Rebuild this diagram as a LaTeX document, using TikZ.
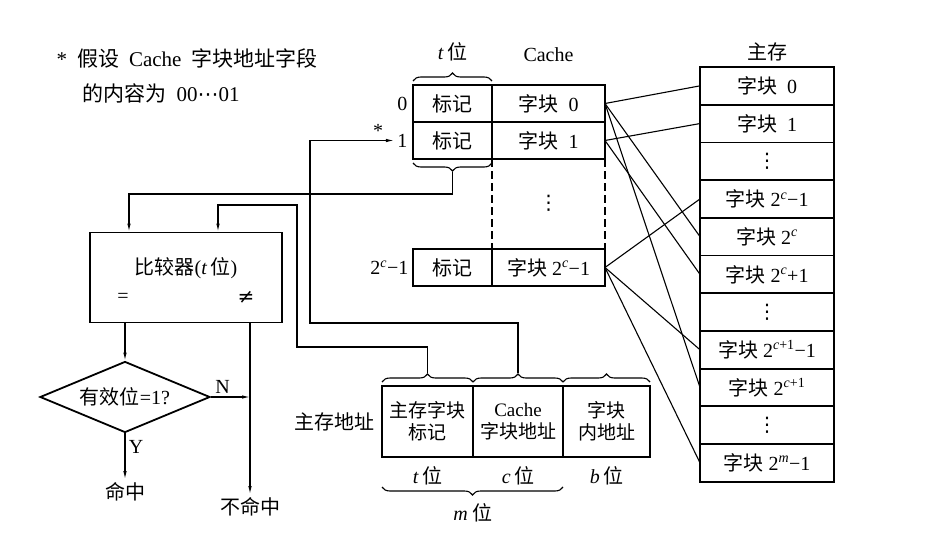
\documentclass[tikz,border=0pt]{standalone}
\usepackage{fontspec}
\setmainfont{Liberation Serif}
\newfontfamily\cjk{Noto Sans CJK SC}
\newfontfamily\sym{DejaVu Sans}
\usepackage{tikz}
\usetikzlibrary{shapes.geometric, arrows.meta, positioning, calc, decorations.pathreplacing}
\tikzstyle{cell} = [draw, rectangle, line width=1.8pt, inner sep=0pt,
    outer sep=0pt, minimum height=37pt]
\tikzstyle{tagcell} = [cell, minimum width=79pt]
\tikzstyle{blkcell} = [cell, minimum width=113pt]
\tikzstyle{memcell} = [cell, minimum width=134pt, minimum height=37.7pt]
\tikzstyle{field} = [cell, minimum height=71pt, align=center,
    font=\fontsize{19pt}{22pt}\selectfont]
\tikzstyle{cmpbox} = [draw, rectangle, line width=1.8pt, minimum width=192pt,
    minimum height=90pt, text height=15pt, text depth=22pt]
\tikzstyle{decide} = [draw, diamond, line width=1.8pt, inner sep=0pt, aspect=2.4,
    minimum width=170pt, minimum height=71pt]
\tikzstyle{wire} = [line width=1.1pt]
\tikzstyle{cbrace} = [decorate, decoration={brace, amplitude=8pt}, line width=1.1pt]
\newcommand{\zh}[1]{{\cjk #1}}
\newcommand{\pw}[1]{2\textsuperscript{#1}}
\newcommand{\vdts}{{\sym ⋮}}

\begin{document}
\begin{tikzpicture}[x=1pt, y=-1pt, node distance=0pt, >={Latex[length=8pt,width=3.5pt]},
    every node/.style={font=\fontsize{20pt}{24pt}\selectfont}]
    \useasboundingbox (0,0) rectangle (946,551);
    % note
    \node [anchor=west, font=\fontsize{21pt}{25pt}\selectfont] (note1) at (53,58)
        {*\hspace{10pt}\zh{假设}\hspace{10pt}Cache\hspace{10pt}\zh{字块地址字段}};
    \node [anchor=west, font=\fontsize{21pt}{25pt}\selectfont] (note2) at (79,93)
        {\zh{的内容为}\hspace{10pt}00{\sym ⋯}01};
    % cache
    \node [tagcell] (tag0) at (452.5,103.5) {\zh{标记}};
    \node [blkcell, right=of tag0] (blk0) {\zh{字块}~~0};
    \node [tagcell, below=of tag0] (tag1) {\zh{标记}};
    \node [blkcell, right=of tag1] (blk1) {\zh{字块}~~1};
    \node [tagcell] (tagN) at (452.5,267.5) {\zh{标记}};
    \node [blkcell, right=of tagN] (blkN) {\zh{字块}~\pw{\textit{c}}−1};
    \draw [wire, dashed, dash pattern=on 8pt off 4pt] (tag1.south east) -- (tagN.north east);
    \draw [wire, dashed, dash pattern=on 8pt off 4pt] (blk1.south east) -- (blkN.north east);
    \node (cdots) at (548.5,203) {\vdts};
    \node [left=2pt of tag0] (lbl0) {0};
    \node [left=2pt of tag1] (lbl1) {1};
    \node [left=1pt of tagN] (lblN) {\pw{\textit{c}}−1};
    \node (star) at (378,131) {*};
    \node [above=20pt of tag0] (tbit) {\textit{t}\,\zh{位}};
    \node [above=20pt of blk0] (cachelbl) {Cache};
    \draw [cbrace] ([yshift=4pt]tag0.north west) -- ([yshift=4pt]tag0.north east);
    \draw [cbrace] ([yshift=-4pt]tag1.south east) -- ([yshift=-4pt]tag1.south west);
    \coordinate (ttip) at ($(tag1.south)+(0,13)$);
    % main memory
    \node [memcell] (m0) at (767,85.85) {\zh{字块}~~0};
    \node [memcell, below=of m0] (m1) {\zh{字块}~~1};
    \node [memcell, below=of m1] (m2) {\vdts};
    \node [memcell, below=of m2] (m3) {\zh{字块}~\pw{\textit{c}}−1};
    \node [memcell, below=of m3] (m4) {\zh{字块}~\pw{\textit{c}}};
    \node [memcell, below=of m4] (m5) {\zh{字块}~\pw{\textit{c}}+1};
    \node [memcell, below=of m5] (m6) {\vdts};
    \node [memcell, below=of m6] (m7) {\zh{字块}~\pw{\textit{c}+1}−1};
    \node [memcell, below=of m7] (m8) {\zh{字块}~\pw{\textit{c}+1}};
    \node [memcell, below=of m8] (m9) {\vdts};
    \node [memcell, below=of m9] (m10) {\zh{字块}~\pw{\textit{m}}−1};
    \node [above=2pt of m0] (memlbl) {\zh{主存}};
    \draw [wire] (blk0.east) -- (m0.west);
    \draw [wire] (blk0.east) -- (m4.west);
    \draw [wire] (blk0.east) -- (m8.west);
    \draw [wire] (blk1.east) -- (m1.west);
    \draw [wire] (blk1.east) -- (m5.west);
    \draw [wire] (blkN.east) -- (m3.west);
    \draw [wire] (blkN.east) -- (m7.west);
    \draw [wire] (blkN.east) -- (m10.west);
    % address
    \node [field, minimum width=91pt] (atag) at (427.5,421.5) {\zh{主存字块}\\\zh{标记}};
    \node [field, minimum width=90pt, right=of atag] (acache) {Cache\\\zh{字块地址}};
    \node [field, minimum width=87pt, right=of acache] (aoff) {\zh{字块}\\\zh{内地址}};
    \node [left=4pt of atag] (addrlbl) {\zh{主存地址}};
    \draw [cbrace] ([yshift=4pt]atag.north west) -- ([yshift=4pt]atag.north east);
    \draw [cbrace] ([yshift=4pt]acache.north west) -- ([yshift=4pt]acache.north east);
    \draw [cbrace] ([yshift=4pt]aoff.north west) -- ([yshift=4pt]aoff.north east);
    \coordinate (atagtip) at ($(atag.north)+(0,-13)$);
    \coordinate (acachetip) at ($(acache.north)+(0,-13)$);
    \node [below=6pt of atag] (tlbl) {\textit{t}\,\zh{位}};
    \node [below=6pt of acache] (clbl) {\textit{c}\,\zh{位}};
    \node [below=6pt of aoff] (blbl) {\textit{b}\,\zh{位}};
    \draw [cbrace] ([yshift=-30pt]acache.south east) -- ([yshift=-30pt]atag.south west);
    \node (mbit) at ($(atag.south east)+(0,56)$) {\textit{m}~\zh{位}};
    % comparator
    \node [cmpbox] (cmp) at (186,277.5) {\zh{比较器}(\textit{t}\,\zh{位})};
    \node (eq) at ([xshift=-63pt,yshift=-20pt]cmp.center) {=};
    \node (neq) at ([xshift=60pt,yshift=-20pt]cmp.center) {{\sym ≠}};
    \node [decide] (valid) at (125,397) {\zh{有效位}=1?};
    \node (hit) at (125,492) {\zh{命中}};
    \node (miss) at (250,507) {\zh{不命中}};
    \draw [wire, ->] (ttip) -- ++(0,22) -| ([xshift=-57pt]cmp.north);
    \draw [wire, ->] (atagtip) |- (297,347) |- (218,205) -- ([xshift=32pt]cmp.north);
    \draw [wire, ->] (acachetip) |- (310,323) |- (lbl1.west);
    \draw [wire, ->] (cmp.south -| valid.north) -- (valid.north);
    \draw [wire, ->] (cmp.south -| miss.north) -- (miss.north);
    \draw [wire, ->] (valid.south) -- node [pos=0.3, right] {Y} (hit.north);
    \draw [wire, ->] (valid.east) -- node [pos=0.3, above] {N} (valid.east -| miss.north);
\end{tikzpicture}
\end{document}
